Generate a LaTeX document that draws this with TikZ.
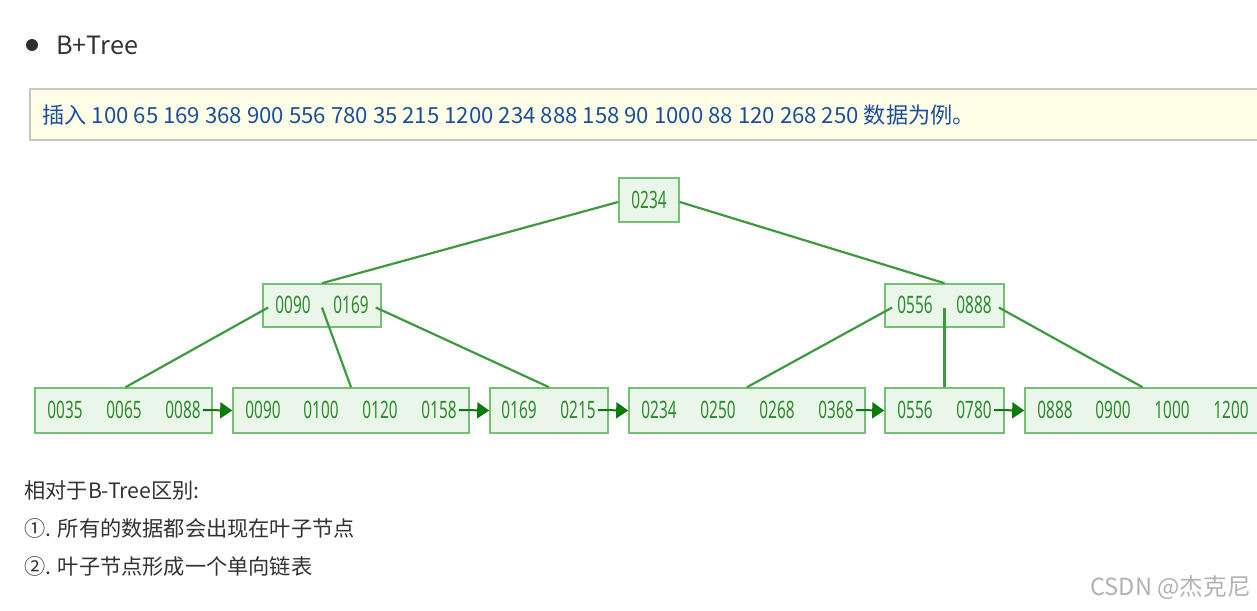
\documentclass[tikz,border=0pt]{standalone}
\usepackage{fontspec}
\setmainfont{Noto Sans CJK SC}
\newfontfamily\cjk{Noto Sans CJK SC}
\newfontfamily\numfont[FakeStretch=0.64]{Noto Sans}
\usetikzlibrary{arrows.meta,fit}
\definecolor{boxfill}{HTML}{EAF6EA}
\definecolor{boxline}{HTML}{74C074}
\definecolor{keycol}{HTML}{2E8B2E}
\definecolor{edgecol}{HTML}{3E9A3E}
\definecolor{linkcol}{HTML}{0A7A0A}
\definecolor{notefill}{HTML}{FFFFE8}
\definecolor{noteline}{HTML}{C8C8BC}
\definecolor{noteblue}{HTML}{1C4EA0}
\definecolor{textgrey}{HTML}{333333}
\tikzset{
  nodebox/.style={draw=boxline, fill=boxfill, line width=0.8pt, inner sep=0pt},
  key/.style={text=keycol, font=\numfont\fontsize{12}{13}\selectfont, inner sep=0pt},
  treeedge/.style={draw=edgecol, line width=1.1pt},
  link/.style={draw=linkcol, line width=1pt, -{Triangle[length=6pt,width=8pt]}},
}
\begin{document}
\begin{tikzpicture}[x=0.5pt,y=-0.5pt]
\useasboundingbox (0,0) rectangle (1257,610);
\fill[white] (0,0) rectangle (1257,610);

% heading
\fill[textgrey!90!black] (32,45) circle (6);
\node[anchor=west, text=textgrey, font=\fontsize{12.6}{14}\selectfont, inner sep=0pt] (title) at (56,45) {B+Tree};

% note box
\node[draw=noteline, fill=notefill, line width=0.6pt, inner sep=0pt, fit={(30,89) (1270,140)}] (note) {};
\node[anchor=west, text=noteblue, font=\fontsize{11.1}{13}\selectfont, inner sep=0pt] (notetext) at (42,115)
  {插入 100 65 169 368 900 556 780 35 215 1200 234 888 158 90 1000 88 120 268 250 数据为例。};

% root
\node[nodebox, fit={(619,178) (679,222)}] (R) {};
\node[key] (r0234) at (649,200) {0234};

% internal nodes
\node[nodebox, fit={(263,284) (381,327)}] (I1) {};
\node[key] (i0090) at (293,305) {0090};
\node[key] (i0169) at (351,305) {0169};
\node[nodebox, fit={(885,284) (1004,327)}] (I2) {};
\node[key] (i0556) at (915,305) {0556};
\node[key] (i0888) at (974,305) {0888};

% leaves
\node[nodebox, fit={(35,388) (212,433)}] (L1) {};
\node[key] (k0035) at (65,410) {0035};
\node[key] (k0065) at (124,410) {0065};
\node[key] (k0088) at (183,410) {0088};

\node[nodebox, fit={(233,388) (469,433)}] (L2) {};
\node[key] (k0090) at (263,410) {0090};
\node[key] (k0100) at (321,410) {0100};
\node[key] (k0120) at (380,410) {0120};
\node[key] (k0158) at (439,410) {0158};

\node[nodebox, fit={(490,388) (608,433)}] (L3) {};
\node[key] (k0169) at (519,410) {0169};
\node[key] (k0215) at (578,410) {0215};

\node[nodebox, fit={(629,388) (865,433)}] (L4) {};
\node[key] (k0234) at (659,410) {0234};
\node[key] (k0250) at (718,410) {0250};
\node[key] (k0268) at (777,410) {0268};
\node[key] (k0368) at (836,410) {0368};

\node[nodebox, fit={(885,388) (1004,433)}] (L5) {};
\node[key] (k0556) at (915,410) {0556};
\node[key] (k0780) at (974,410) {0780};

\node[nodebox, fit={(1025,388) (1262,433)}] (L6) {};
\node[key] (k0888) at (1055,410) {0888};
\node[key] (k0900) at (1113,410) {0900};
\node[key] (k1000) at (1172,410) {1000};
\node[key] (k1200) at (1231,410) {1200};

% tree edges
\draw[treeedge] ([yshift=-1pt]R.west) -- (I1.north);
\draw[treeedge] ([yshift=-1pt]R.east) -- (I2.north);
\draw[treeedge] ([xshift=3pt,yshift=-1pt]I1.west) -- ([xshift=1pt]L1.north);
\draw[treeedge] ([yshift=-1pt]I1.center) -- (L2.north);
\draw[treeedge] ([xshift=-3pt,yshift=-1pt]I1.east) -- (L3.north);
\draw[treeedge] ([xshift=4pt,yshift=-1pt]I2.west) -- (L4.north);
\draw[treeedge] ([yshift=-1pt]I2.center) -- (L5.north);
\draw[treeedge] ([xshift=-3pt,yshift=-1pt]I2.east) -- ([xshift=-0.5pt]L6.north);

% leaf links
\draw[link] ([xshift=1pt]k0088.east) -- (L2.west);
\draw[link] ([xshift=1pt]k0158.east) -- (L3.west);
\draw[link] ([xshift=1pt]k0215.east) -- (L4.west);
\draw[link] ([xshift=1pt]k0368.east) -- (L5.west);
\draw[link] ([xshift=1pt]k0780.east) -- (L6.west);

% notes
\node[anchor=west, text=textgrey, font=\fontsize{10.6}{12}\selectfont, inner sep=0pt] (diff) at (24,490) {相对于B-Tree区别:};
\node[anchor=west, text=textgrey, font=\fontsize{10.6}{12}\selectfont, inner sep=0pt] (p1) at (24,528) {①. 所有的数据都会出现在叶子节点};
\node[anchor=west, text=textgrey, font=\fontsize{10.6}{12}\selectfont, inner sep=0pt] (p2) at (24,566) {②. 叶子节点形成一个单向链表};

% watermark
\node[anchor=west, text=black!30, font=\fontsize{11.8}{13}\selectfont, inner sep=0pt] (wm) at (1090,588) {CSDN @杰克尼};
\end{tikzpicture}
\end{document}
